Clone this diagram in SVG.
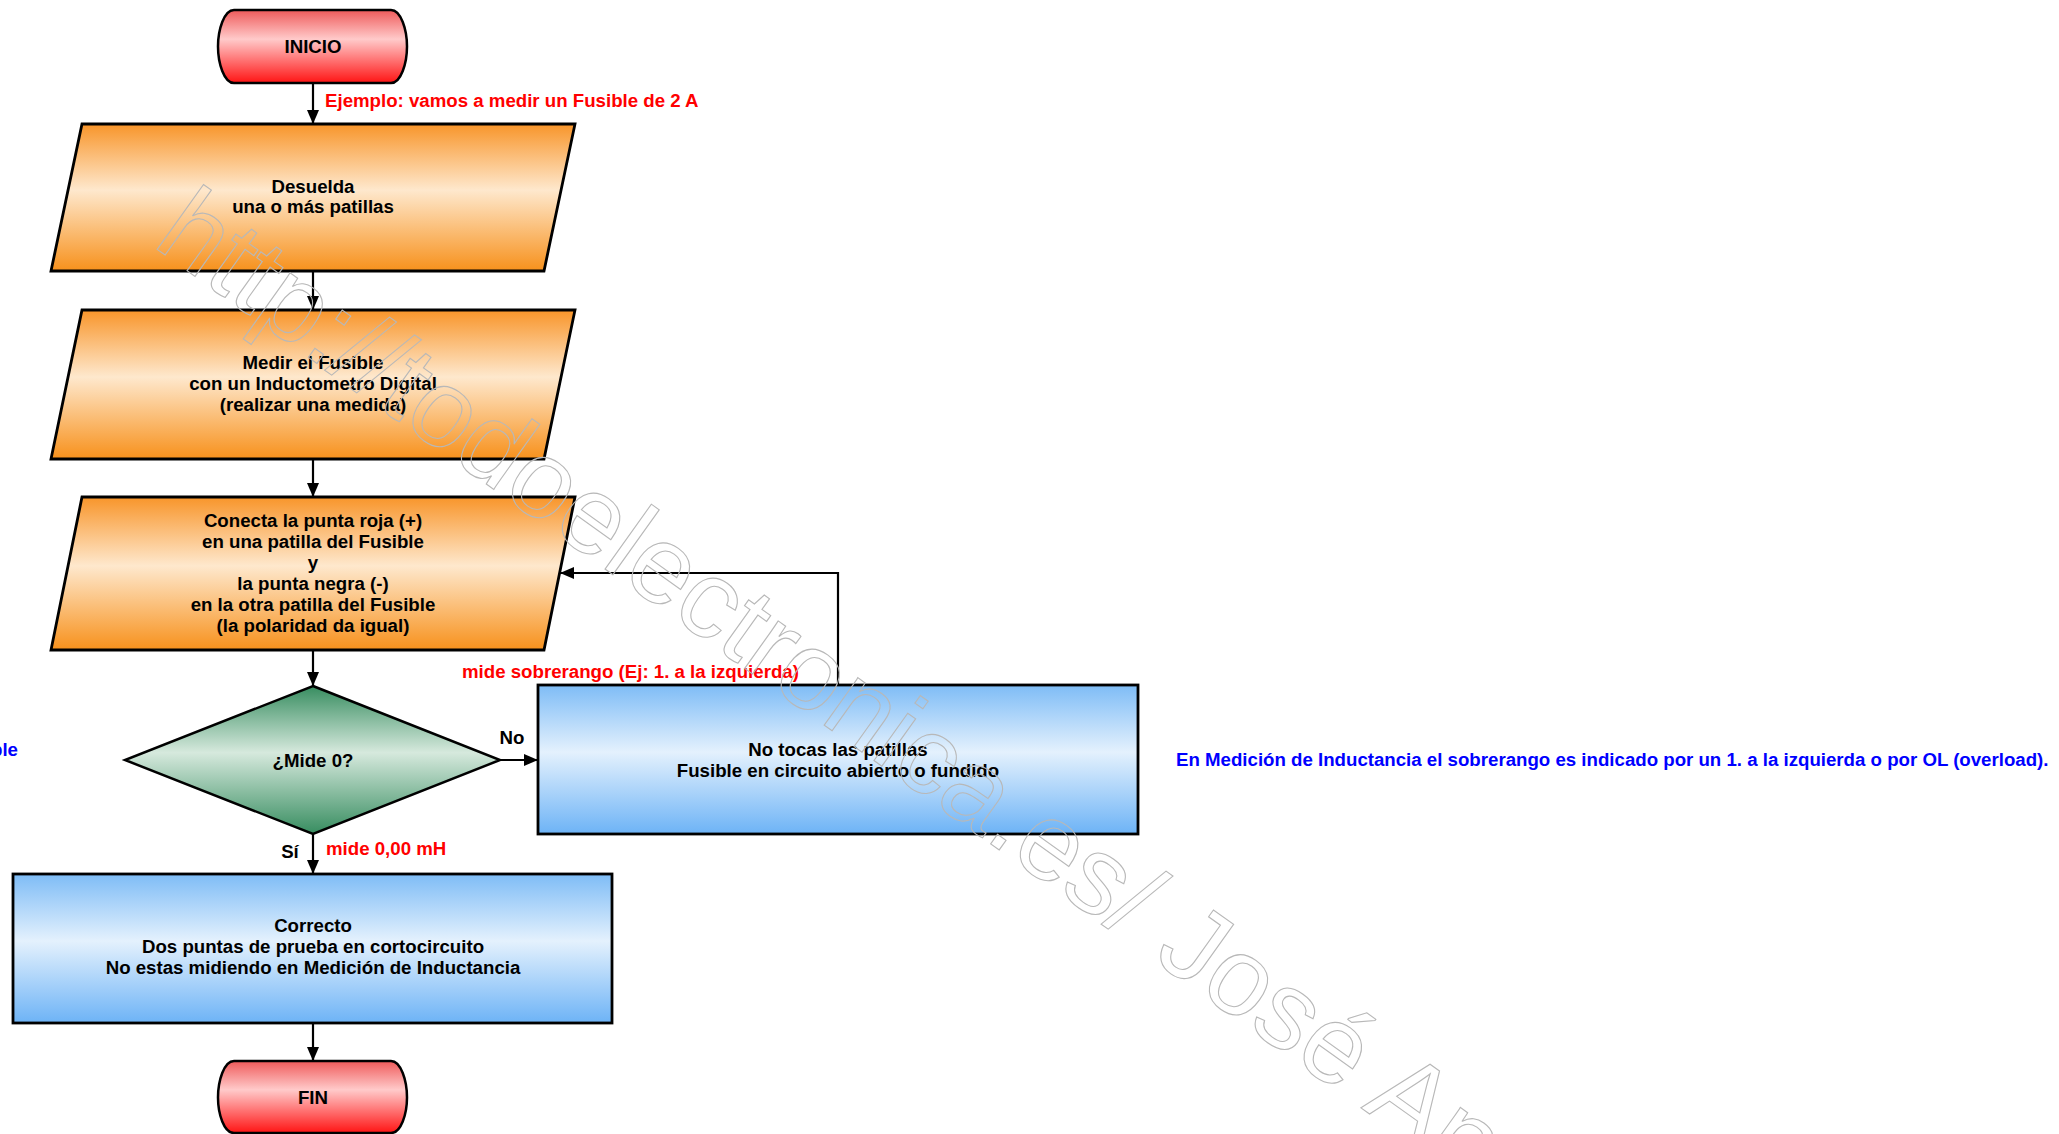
<svg xmlns="http://www.w3.org/2000/svg" width="2059" height="1134" viewBox="0 0 2059 1134">
<defs>
<linearGradient id="gOrange" x1="0" y1="0" x2="0" y2="1">
<stop offset="0" stop-color="#f8952a"/>
<stop offset="0.45" stop-color="#fee8cd"/>
<stop offset="1" stop-color="#f7911c"/>
</linearGradient>
<linearGradient id="gBlue" x1="0" y1="0" x2="0" y2="1">
<stop offset="0" stop-color="#7ebcf6"/>
<stop offset="0.45" stop-color="#e4f1fd"/>
<stop offset="1" stop-color="#6db3f6"/>
</linearGradient>
<linearGradient id="gRed" x1="0" y1="0" x2="0" y2="1">
<stop offset="0" stop-color="#ef5a5a"/>
<stop offset="0.4" stop-color="#ffcaca"/>
<stop offset="1" stop-color="#ff1414"/>
</linearGradient>
<linearGradient id="gGreen" x1="0" y1="0" x2="0" y2="1">
<stop offset="0" stop-color="#378d60"/>
<stop offset="0.45" stop-color="#d6e9dd"/>
<stop offset="1" stop-color="#378d60"/>
</linearGradient>
<marker id="arr" markerUnits="userSpaceOnUse" markerWidth="14" markerHeight="12" refX="14" refY="6" orient="auto">
<path d="M0,0 L14,6 L0,12 z" fill="#000"/>
</marker>
</defs>
<style>
.t{font-family:"Liberation Sans",Arial,sans-serif;font-weight:bold;font-size:18.67px;fill:#000;text-anchor:middle}
.red{font-family:"Liberation Sans",Arial,sans-serif;font-weight:bold;font-size:18.67px;fill:#ff0000}
.blue{font-family:"Liberation Sans",Arial,sans-serif;font-weight:bold;font-size:18.67px;fill:#0000ff}
.term{fill:url(#gRed);stroke:#000;stroke-width:2.5}
.para{fill:url(#gOrange);stroke:#000;stroke-width:2.8}
.box{fill:url(#gBlue);stroke:#000;stroke-width:2.8}
.dia{fill:url(#gGreen);stroke:#000;stroke-width:2.5}
.c{fill:none;stroke:#000;stroke-width:2.2;marker-end:url(#arr)}
.wm{font-family:"Liberation Sans",Arial,sans-serif;font-size:110px;fill:none;stroke:#b8b8b8;stroke-width:1.1}
</style>
<rect width="2059" height="1134" fill="#fff"/>

<g id="inicio">
<path class="term" d="M234,10 H391 C401,10 407,30 407,46.5 C407,63 401,83 391,83 H234 C224,83 218,63 218,46.5 C218,30 224,10 234,10 Z"/>
<text class="t" x="313" y="53">INICIO</text>
</g>

<g id="desuelda">
<polygon class="para" points="82,124 575,124 544,271 51,271"/>
<text class="t" x="313" y="192.5">Desuelda</text>
<text class="t" x="313" y="213">una o más patillas</text>
</g>

<g id="medir">
<polygon class="para" points="82,310 575,310 544,459 51,459"/>
<text class="t" x="313" y="369">Medir el Fusible</text>
<text class="t" x="313" y="390">con un Inductometro Digital</text>
<text class="t" x="313" y="411">(realizar una medida)</text>
</g>

<g id="conecta">
<polygon class="para" points="82,497 575,497 544,650 51,650"/>
<text class="t" x="313" y="527">Conecta la punta roja (+)</text>
<text class="t" x="313" y="548">en una patilla del Fusible</text>
<text class="t" x="313" y="569">y</text>
<text class="t" x="313" y="590">la punta negra (-)</text>
<text class="t" x="313" y="611">en la otra patilla del Fusible</text>
<text class="t" x="313" y="632">(la polaridad da igual)</text>
</g>

<g id="mide0">
<polygon class="dia" points="313,686 500,760 313,834 125,760"/>
<text class="t" x="313" y="767">¿Mide 0?</text>
</g>

<g id="notocas">
<rect class="box" x="538" y="685" width="600" height="149"/>
<text class="t" x="838" y="756">No tocas las patillas</text>
<text class="t" x="838" y="777">Fusible en circuito abierto o fundido</text>
</g>

<g id="correcto">
<rect class="box" x="13" y="874" width="599" height="149"/>
<text class="t" x="313" y="932">Correcto</text>
<text class="t" x="313" y="953">Dos puntas de prueba en cortocircuito</text>
<text class="t" x="313" y="974">No estas midiendo en Medición de Inductancia</text>
</g>

<g id="fin">
<path class="term" d="M234,1061 H391 C401,1061 407,1081 407,1097.5 C407,1114 401,1133 391,1133 H234 C224,1133 218,1114 218,1097.5 C218,1081 224,1061 234,1061 Z"/>
<text class="t" x="313" y="1104">FIN</text>
</g>

<g id="connectors">
<line class="c" x1="313" y1="83" x2="313" y2="124"/>
<line class="c" x1="313" y1="271" x2="313" y2="310"/>
<line class="c" x1="313" y1="459" x2="313" y2="497"/>
<line class="c" x1="313" y1="650" x2="313" y2="686"/>
<line class="c" x1="500" y1="760" x2="538" y2="760"/>
<polyline class="c" points="838,685 838,573 560,573"/>
<line class="c" x1="313" y1="834" x2="313" y2="874"/>
<line class="c" x1="313" y1="1023" x2="313" y2="1061"/>
</g>

<g id="labels">
<text class="red" x="325" y="106.5">Ejemplo: vamos a medir un Fusible de 2 A</text>
<text class="red" x="462" y="677.5">mide sobrerango (Ej: 1. a la izquierda)</text>
<text class="t" x="512" y="743.5">No</text>
<text class="t" x="290" y="858">Sí</text>
<text class="red" x="326" y="854.5">mide 0,00 mH</text>
<text class="blue" x="1176" y="766">En Medición de Inductancia el sobrerango es indicado por un 1. a la izquierda o por OL (overload).</text>
<text class="blue" x="18" y="756" text-anchor="end">ble</text>
</g>

<g id="watermark">
<text class="wm" transform="translate(151,245) rotate(35.5)">http://todoelectronica.es/ José Ant</text>
</g>
</svg>
